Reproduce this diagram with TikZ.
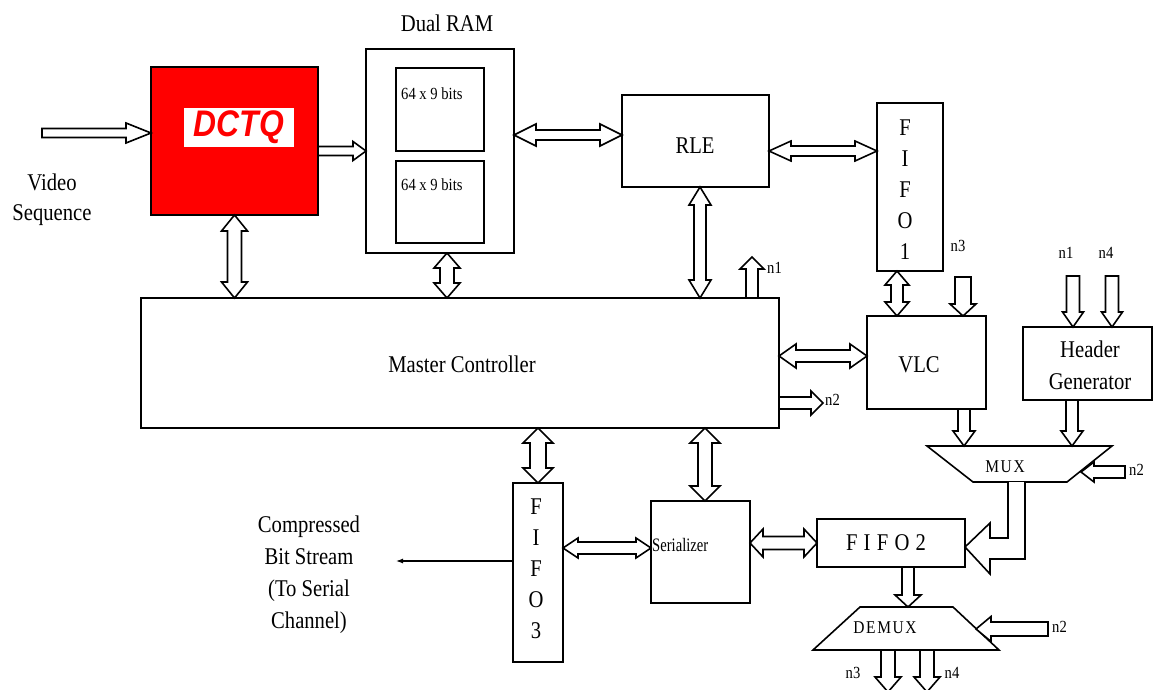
\documentclass[tikz,border=0pt]{standalone}
\usepackage{fontspec}
\setmainfont{Liberation Serif}[FakeStretch=0.86]
\newfontfamily\dctqfont{Liberation Sans}[FakeStretch=0.86]
\newfontfamily\serfont{Liberation Serif}[FakeStretch=0.77]
\usetikzlibrary{calc,arrows.meta}

\tikzset{
  box/.style={draw, line width=1.6pt, inner sep=0pt, outer sep=0pt},
  blk/.style={draw, line width=1.6pt, fill=white, line join=miter},
  txt/.style={inner sep=0pt, font=\fontsize{24}{32}\selectfont},
  nlbl/.style={inner sep=0pt, font=\fontsize{17}{17}\selectfont},
  vert/.style={inner sep=0pt, align=center, font=\fontsize{24}{31}\selectfont},
  muxlbl/.style={inner sep=0pt, font=\fontsize{18}{18}\selectfont\addfontfeature{LetterSpace=9}},
}

% box node from corner coordinates: name, x1, y1, x2, y2, options
\newcommand\bx[6]{%
  \node[box, minimum width={#4-#2}, minimum height={#5-#3}, #6] (#1) at ({(#2+#4)/2},{(#3+#5)/2}) {};}
% single-headed block arrow: from, to, shaft half-width, head half-width, head length
\newcommand\blkone[5]{%
  \coordinate (ba1) at ($(#2)!#5!(#1)$);
  \draw[blk] ($(#1)!#3!90:(#2)$) -- ($(ba1)!#3!-90:(#1)$) -- ($(ba1)!#4!-90:(#1)$) -- (#2)
    -- ($(ba1)!#4!90:(#1)$) -- ($(ba1)!#3!90:(#1)$) -- ($(#1)!#3!-90:(#2)$) -- cycle;}
% double-headed block arrow
\newcommand\blktwo[5]{%
  \coordinate (da1) at ($(#1)!#5!(#2)$);
  \coordinate (da2) at ($(#2)!#5!(#1)$);
  \draw[blk] (#1) -- ($(da1)!#4!90:(#2)$) -- ($(da1)!#3!90:(#2)$) -- ($(da2)!#3!-90:(#1)$)
    -- ($(da2)!#4!-90:(#1)$) -- (#2) -- ($(da2)!#4!90:(#1)$) -- ($(da2)!#3!90:(#1)$)
    -- ($(da1)!#3!-90:(#2)$) -- ($(da1)!#4!-90:(#2)$) -- cycle;}

\begin{document}
\begin{tikzpicture}[x=1pt,y=-1pt]
\useasboundingbox (0,0) rectangle (1154,690);
\fill[white] (0,0) rectangle (1154,690);

% ---------- boxes ----------
\bx{dctq}{151}{67}{318}{215}{fill=red}
\node[fill=white, inner sep=0pt, minimum width=110pt, minimum height=39pt] (dctqlbl) at (239,127.5)
  {\dctqfont\bfseries\itshape\fontsize{37}{37}\selectfont\color{red}DCTQ};

\bx{ram}{366}{49}{514}{253}{}
\bx{ram1}{396}{68}{484}{151}{}
\bx{ram2}{396}{161}{484}{243}{}
\node[inner sep=0pt, anchor=west, font=\fontsize{17}{17}\selectfont] (ram1lbl) at (401,94) {64 x 9 bits};
\node[inner sep=0pt, anchor=west, font=\fontsize{17}{17}\selectfont] (ram2lbl) at (401,185) {64 x 9 bits};
\node[txt] (ramlbl) at (447,23) {Dual RAM};

\bx{rle}{622}{95}{769}{187}{}
\node[txt] (rlelbl) at (695,146) {RLE};
\bx{fifo1}{877}{103}{943}{271}{}
\node[vert] (fifo1lbl) at (905,189.5) {F\\I\\F\\O\\1};

\bx{mc}{141}{298}{779}{428}{}
\node[txt] (mclbl) at (462,364) {Master Controller};
\bx{vlc}{867}{316}{986}{409}{}
\node[txt] (vlclbl) at (919,365) {VLC};
\bx{hg}{1023}{327}{1152}{400}{}
\node[txt, align=center] (hglbl) at (1090,365) {Header\\Generator};

\bx{fifo3}{513}{483}{563}{662}{}
\node[vert] (fifo3lbl) at (536,569) {F\\I\\F\\O\\3};
\bx{ser}{651}{501}{750}{603}{}
\node[inner sep=0pt, anchor=west, font=\serfont\fontsize{19}{19}\selectfont] (serlbl) at (652,545) {Serializer};
\bx{fifo2}{817}{519}{965}{567}{}
\node[inner sep=0pt, font=\fontsize{24}{24}\selectfont\addfontfeature{LetterSpace=26}] (fifo2lbl) at (886,543) {FIFO2};

% MUX and DEMUX
\draw[line width=1.6pt, line join=miter] (927,446) -- (1112,446) -- (1067,482) -- (973,482) -- cycle;
\node[muxlbl] (mux) at (1005,467) {MUX};
\draw[line width=1.6pt, line join=miter] (860,607) -- (953,607) -- (999,650) -- (813,650) -- cycle;
\node[muxlbl] (demux) at (885,628) {DEMUX};

% ---------- text labels ----------
\node[txt, align=center, font=\fontsize{24}{30}\selectfont] (vidlbl) at (52,200) {Video\\Sequence};
\node[txt, align=center] (outlbl) at (309,575) {Compressed\\Bit Stream\\(To Serial\\Channel)};

% ---------- connectors ----------
\coordinate (vin) at (42,133);
\coordinate (vout) at (dctq.west |- vin);
\blkone{vin}{vout}{4.5pt}{10pt}{25pt}

\coordinate (d2r) at (318,151);
\coordinate (d2rb) at (d2r -| ram.west);
\blkone{d2r}{d2rb}{4.5pt}{9.5pt}{13pt}

\coordinate (dm1) at (dctq.south);
\coordinate (dm2) at (dctq.south |- mc.north);
\blktwo{dm1}{dm2}{7pt}{13pt}{16pt}

\coordinate (rm1) at ([xshift=7pt]ram.south);
\coordinate (rm2) at (rm1 |- mc.north);
\blktwo{rm1}{rm2}{7pt}{13pt}{15pt}

\coordinate (rr1) at ([yshift=16pt]ram.east);
\coordinate (rr2) at (rr1 -| rle.west);
\blktwo{rr1}{rr2}{5pt}{11pt}{22pt}

\coordinate (rf1) at ([yshift=-10pt]rle.east);
\coordinate (rf2) at (rf1 -| fifo1.west);
\blktwo{rf1}{rf2}{5pt}{10pt}{22pt}

\coordinate (rlm1) at ([xshift=4.5pt]rle.south);
\coordinate (rlm2) at (rlm1 |- mc.north);
\blktwo{rlm1}{rlm2}{6pt}{11pt}{18pt}

\coordinate (n1t) at (752,257);
\coordinate (n1b) at (n1t |- mc.north);
\blkone{n1b}{n1t}{6pt}{12pt}{12pt}
\node[nlbl, anchor=west] (n1lbl) at (767,268) {n1};

\coordinate (mv2) at ([yshift=6.5pt]vlc.west);
\coordinate (mv1) at (mv2 -| mc.east);
\blktwo{mv1}{mv2}{6pt}{12pt}{17pt}

\coordinate (n2t) at (823,403);
\coordinate (n2b) at (n2t -| mc.east);
\blkone{n2b}{n2t}{6pt}{12pt}{12pt}
\node[nlbl, anchor=west] (n2lbl) at (825,400) {n2};

\coordinate (fv1) at ([xshift=-13pt]fifo1.south);
\coordinate (fv2) at (fv1 |- vlc.north);
\blktwo{fv1}{fv2}{6pt}{12pt}{14pt}

\coordinate (n3t) at (963,277);
\coordinate (n3b) at (n3t |- vlc.north);
\blkone{n3t}{n3b}{8pt}{13pt}{12pt}
\node[nlbl] (n3lbl) at (958,246) {n3};

\coordinate (hn1t) at (1073,276);
\coordinate (hn1b) at (hn1t |- hg.north);
\blkone{hn1t}{hn1b}{6.5pt}{10.5pt}{15pt}
\node[nlbl] (hn1lbl) at (1066,253) {n1};
\coordinate (hn4t) at (1112,276);
\coordinate (hn4b) at (hn4t |- hg.north);
\blkone{hn4t}{hn4b}{6.5pt}{10.5pt}{15pt}
\node[nlbl] (hn4lbl) at (1106,253) {n4};

\coordinate (vm1) at (964,409);
\coordinate (vm2) at (964,446);
\blkone{vm1}{vm2}{6pt}{11pt}{15pt}

\coordinate (hm1) at (1072,400);
\coordinate (hm2) at (1072,446);
\blkone{hm1}{hm2}{6pt}{11pt}{15pt}

\coordinate (mn2t) at (1125,472);
\coordinate (mn2b) at (1081,472);
\blkone{mn2t}{mn2b}{6pt}{10pt}{13pt}
\node[nlbl, anchor=west] (mn2lbl) at (1129,470) {n2};

\coordinate (mf1) at (fifo3.north |- mc.south);
\coordinate (mf2) at (fifo3.north);
\blktwo{mf1}{mf2}{8pt}{15pt}{15pt}

\coordinate (ms2) at ([xshift=4.5pt]ser.north);
\coordinate (ms1) at (ms2 |- mc.south);
\blktwo{ms1}{ms2}{7pt}{15pt}{15pt}

\coordinate (fs1) at ([yshift=24.5pt]fifo3.east);
\coordinate (fs2) at (fs1 -| ser.west);
\blktwo{fs1}{fs2}{6pt}{10pt}{15pt}

\coordinate (sf2) at (fifo2.west);
\coordinate (sf1) at (sf2 -| ser.east);
\blktwo{sf1}{sf2}{6.5pt}{14pt}{13pt}

% MUX -> FIFO2 bent arrow
\coordinate (f2in) at ([yshift=-4pt]fifo2.east);
\coordinate (mb1) at (1008,482);
\coordinate (mb2) at (1025,482);
\draw[blk] (mb1) |- (990,538) -- (990,523) -- (f2in) -- (990,574) -- (990,559) -| (mb2);

\coordinate (fd1) at ([xshift=17pt]fifo2.south);
\coordinate (fd2) at (fd1 |- 0,607);
\blkone{fd1}{fd2}{6pt}{13pt}{12pt}

\coordinate (dn2t) at (1048,629);
\coordinate (dn2b) at (976,629);
\blkone{dn2t}{dn2b}{7pt}{12.5pt}{15pt}
\node[nlbl, anchor=west] (dn2lbl) at (1052,627) {n2};

\coordinate (do3a) at (888,650);
\coordinate (do3b) at (888,692);
\blkone{do3a}{do3b}{7pt}{13pt}{15pt}
\node[nlbl] (do3lbl) at (853,673) {n3};
\coordinate (do4a) at (927,650);
\coordinate (do4b) at (927,692);
\blkone{do4a}{do4b}{7pt}{13pt}{15pt}
\node[nlbl] (do4lbl) at (952,673) {n4};

% serial output
\coordinate (so1) at (fifo3.west |- 0,561);
\coordinate (so2) at (396,561);
\draw[line width=1.2pt, -{Latex[length=7pt,width=5pt]}] (so1) -- (so2);
\end{tikzpicture}
\end{document}
